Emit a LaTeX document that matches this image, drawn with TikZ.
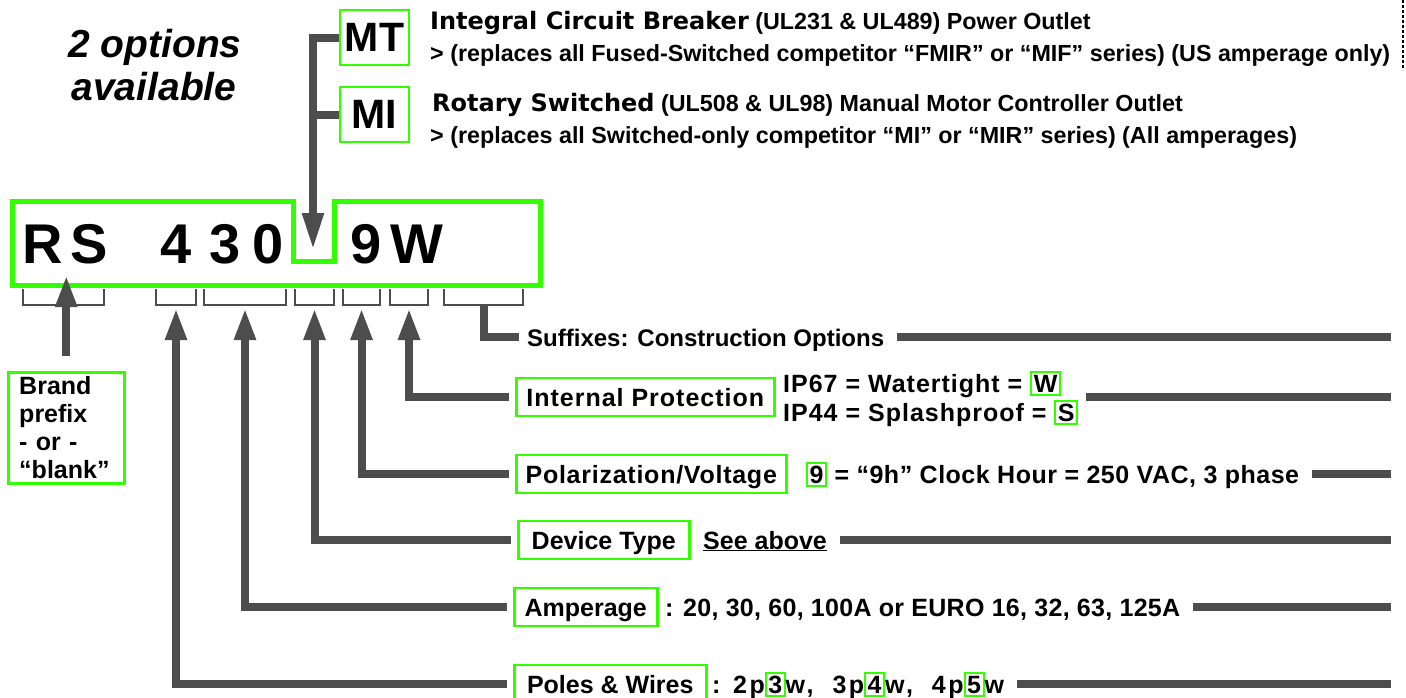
\documentclass[tikz,border=0pt]{standalone}
\usepackage{fontspec}
\setmainfont{Liberation Sans}
\newfontfamily\heavyfont{DejaVu Sans}
\usetikzlibrary{positioning,arrows.meta}
\definecolor{codegreen}{HTML}{33FF00}
\definecolor{bargray}{HTML}{4D4D4D}
\newcommand\gbox[1]{{\setlength\fboxrule{2pt}\setlength\fboxsep{1.5pt}\fcolorbox{codegreen}{white}{#1}}}

\begin{document}
\begin{tikzpicture}[x=1pt,y=-1pt,
  txt/.style={font=\fontsize{25}{30}\selectfont\bfseries, inner sep=0pt, text height=18pt, text depth=0pt, anchor=west},
  head/.style={font=\fontsize{23.3}{28}\selectfont\bfseries, inner sep=0pt, anchor=base west},
  labelbox/.style={txt, draw=codegreen, line width=2.5pt, inner ysep=10pt},
  codebox/.style={draw=codegreen, line width=2.5pt, font=\fontsize{41}{41}\selectfont\bfseries, minimum width=69pt, minimum height=55pt, inner sep=0pt},
  codechar/.style={font=\fontsize{56}{56}\selectfont\bfseries, inner sep=0pt, anchor=base},
  bar/.style={draw=bargray, line width=8pt},
  uparrow/.style={bar, -{Triangle[length=32pt,width=20pt]}},
  bracket/.style={draw=bargray, line width=2pt}]
  \useasboundingbox (0,0) rectangle (1406,697);

  \node[font=\fontsize{39}{44}\selectfont\bfseries\itshape, anchor=base] (opta) at (155,57) {2 options};
  \node[font=\fontsize{39}{44}\selectfont\bfseries\itshape, anchor=base] (optb) at (154,100) {available};

  % device type choices
  \node[codebox] (mt) at (374.5,37.5) {MT};
  \node[codebox] (mi) at (374.5,114.5) {MI};
  \node[head] (mta) at (430,29) {{\heavyfont\fontsize{24}{28}\selectfont Integral Circuit Breaker} (UL231 \& UL489) Power Outlet};
  \node[head] (mtb) at (430,61) {> (replaces all Fused-Switched competitor “FMIR” or “MIF” series) (US amperage only)};
  \node[head] (mia) at (432,111) {{\heavyfont\fontsize{24}{28}\selectfont Rotary Switched} (UL508 \& UL98) Manual Motor Controller Outlet};
  \node[head] (mib) at (430,143) {> (replaces all Switched-only competitor “MI” or “MIR” series) (All amperages)};
  \draw[dashed, line width=1.2pt, dash pattern=on 3pt off 2pt] (1403,0) -- (1403,70);

  % the part number
  \draw[draw=codegreen, line width=5pt] (12,201) -| (293,261) -| (334,201) -| (540,285) -- (12,285) -- cycle;
  \foreach \ch/\cx [count=\i] in {R/43, S/89, 4/176, 3/225.5, 0/268.5, 9/366.5, W/416.5}
    \node[codechar] (c\i) at (\cx,263) {\ch};
  \foreach \l/\r [count=\i] in {23/104, 156/196, 204/286, 295/334, 343/380, 390/428, 444/523} {
    \draw[bracket] (\l,289) |- (\r,305) -- (\r,289);
    \coordinate (br\i) at ({(\l+\r)/2},305);
  }
  \coordinate (notch) at (313,250);
  \draw[bar, -{Triangle[length=37pt,width=20pt]}] (mt.west) -| (notch);
  \draw[bar] (mi.west) -- (mi.west -| notch);

  % brand prefix
  \node[draw=codegreen, line width=2.5pt, anchor=north west, align=left, text width=94pt, inner xsep=11pt, minimum height=111pt, font=\fontsize{25}{28}\selectfont\bfseries] (brand) at (7,371) {Brand\\prefix\\- or -\\“blank”};
  \draw[uparrow] ([yshift=15pt]brand.north) -- ([yshift=30pt]brand.north |- br1);

  % fields
  \node[txt, font=\fontsize{24}{30}\selectfont\bfseries] (sfx) at (527,337) {Suffixes: Construction Options};
  \node[labelbox, minimum width=258pt] (prot) at (515,397) {\addfontfeature{LetterSpace=4}Internal Protection};
  \node[txt] (ipw) at (783,383) {\addfontfeature{LetterSpace=4}IP67 = Watertight = \gbox{W}};
  \node[txt] (ips) at (783,412) {\addfontfeature{LetterSpace=4}IP44 = Splashproof = \gbox{S}};
  \node[labelbox, minimum width=270pt] (pol) at (515,474) {\addfontfeature{LetterSpace=3}Polarization/Voltage};
  \node[txt] (poltxt) at (806,474) {\addfontfeature{LetterSpace=2}\gbox{9} = “9h” Clock Hour = 250 VAC, 3 phase};
  \node[labelbox, minimum width=171pt] (dev) at (517,540) {Device Type};
  \node[txt] (devtxt) at (703,540) {\underline{See above}};
  \node[labelbox, minimum width=143pt] (amp) at (513,607) {Amperage};
  \node[txt] (amptxt) at (665,607) {\addfontfeature{LetterSpace=1.2}: 20, 30, 60, 100A or EURO 16, 32, 63, 125A};
  \node[labelbox, minimum width=192pt] (pw) at (513,684) {Poles \& Wires};
  \node[txt] (pwtxt) at (712,684) {\addfontfeature{LetterSpace=10}: 2p\gbox{3}w,\ \ 3p\gbox{4}w,\ \ 4p\gbox{5}w};

  \draw[bar] (br7) |- ([xshift=-8pt]sfx.west);
  \draw[uparrow, shorten <=6pt] (prot.west) -| ([yshift=-3pt]br6);
  \draw[uparrow, shorten <=6pt] (pol.west) -| ([yshift=-3pt]br5);
  \draw[uparrow, shorten <=6pt] (dev.west) -| ([yshift=-3pt]br4);
  \draw[uparrow, shorten <=6pt] (amp.west) -| ([yshift=-3pt]br3);
  \draw[uparrow, shorten <=6pt] (pw.west) -| ([yshift=-3pt]br2);

  \foreach \n/\y in {sfx/337, poltxt/474, devtxt/540, amptxt/607, pwtxt/684}
    \draw[bar] ([xshift=13pt]\n.east) -- (1391,\y);
  \draw[bar] ([xshift=8pt]ips.east |- prot.east) -- (1391,397);
\end{tikzpicture}
\end{document}
